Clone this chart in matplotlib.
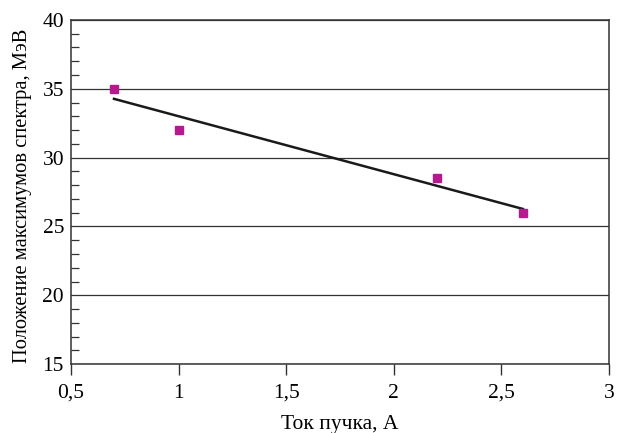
import numpy as np
import matplotlib.pyplot as plt
from matplotlib.ticker import MultipleLocator, FuncFormatter

# beam current (A) vs spectrum peak position (MeV)
current = [0.7, 1.0, 2.2, 2.6]
peak_pos = [35.0, 32.0, 28.5, 26.0]

plt.rcParams['font.family'] = ['Liberation Serif', 'DejaVu Serif']
plt.rcParams['font.size'] = 15.5

fig = plt.figure(figsize=(6.17, 4.33), dpi=100)
ax = fig.add_axes([0.115, 0.159, 0.872, 0.795])

# linear trend through the points
k, b = np.polyfit(current, peak_pos, 1)
xfit = np.array([min(current), max(current)])
ax.plot(xfit, k * xfit + b, color='#1a1a1a', lw=1.8, zorder=3)

ax.plot(current, peak_pos, 's', color='#b5198f', ms=6, zorder=4)

ax.set_xlim(0.5, 3)
ax.set_ylim(15, 40)
ax.xaxis.set_major_locator(MultipleLocator(0.5))
ax.yaxis.set_major_locator(MultipleLocator(5))
ax.yaxis.set_minor_locator(MultipleLocator(1))
comma = FuncFormatter(lambda v, p: ('%g' % v).replace('.', ','))
ax.xaxis.set_major_formatter(comma)
ax.yaxis.set_major_formatter(comma)

ax.grid(axis='y', which='major', color='#333333', lw=0.9)
ax.tick_params(axis='x', direction='out', length=8, width=1, color='#333333', pad=6)
ax.tick_params(axis='y', which='major', length=0, pad=5)
ax.tick_params(axis='y', which='minor', direction='in', length=6, width=0.9, color='#333333')
for s in ax.spines.values():
    s.set_color('#333333')
    s.set_linewidth(1.1)

ax.set_xlabel('Ток пучка, А', labelpad=9)
ax.set_ylabel('Положение максимумов спектра, МэВ', fontsize=14.8)
ax.yaxis.set_label_coords(-0.073, 0.488)

fig.savefig('out.png', dpi=100)
